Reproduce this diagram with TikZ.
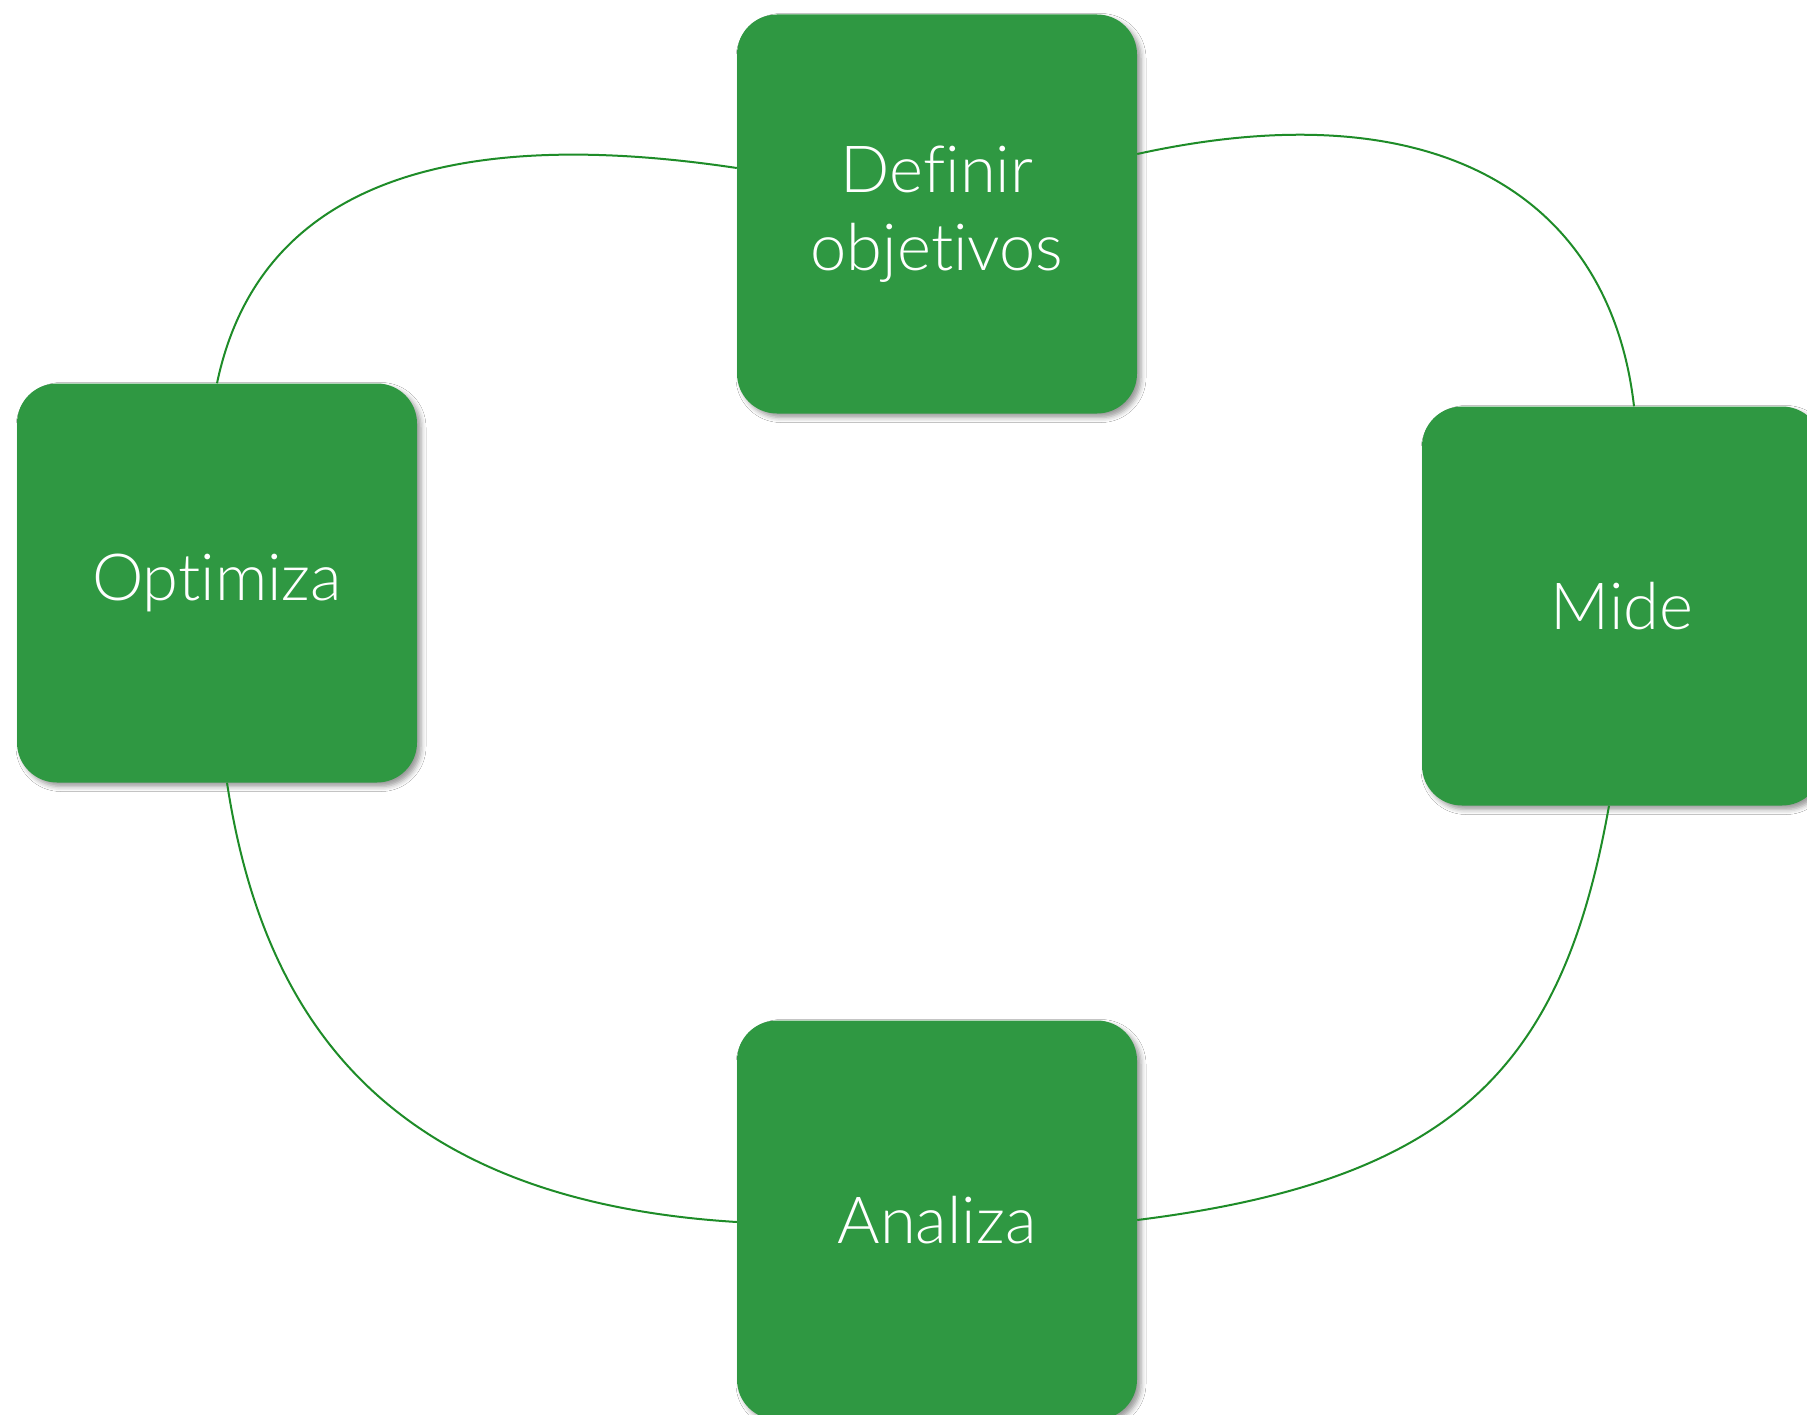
\documentclass[tikz,border=0pt]{standalone}
\usepackage{fontspec}
\setmainfont{Lato Light}[Ligatures={CommonOff}]
\usetikzlibrary{shadows.blur}
\definecolor{boxgreen}{RGB}{47,152,66}
\definecolor{linegreen}{RGB}{30,140,40}
\begin{document}
\begin{tikzpicture}[x=1pt,y=-1pt,
  stepbox/.style={rectangle, rounded corners=40pt, minimum width=400pt, minimum height=399pt,
    fill=boxgreen, text=white, align=center, inner sep=0pt,
    font=\fontsize{65}{78}\selectfont,
    blur shadow={shadow xshift=4pt, shadow yshift=-4pt, shadow blur radius=5pt, shadow opacity=40}},
  link/.style={draw=linegreen, line width=2pt}]
  \fill[white] (0,0) rectangle (1807,1415);
  \useasboundingbox (0,0) rectangle (1807,1415);
  \coordinate (defC) at (937,214);
  \coordinate (optC) at (217,583);
  \coordinate (midC) at (1622,606);
  \coordinate (anaC) at (937,1220);
  \node[stepbox] (def) at (defC) {Definir\\objetivos};
  \node[stepbox] (opt) at (optC) {Optimiza};
  \node[stepbox] (mid) at (midC) {Mide};
  \node[stepbox] (ana) at (anaC) {Analiza};
  \draw[link] ([yshift=46pt]def.west) .. controls +(-270,-40.5) and +(44,-210) .. (opt.north);
  \draw[link] ([yshift=60pt]def.east) .. controls +(300,-66) and +(-24,-210) .. ([xshift=12pt]mid.north);
  \draw[link] ([xshift=-13pt]mid.south) .. controls +(-46,260) and +(320,-40) .. (ana.east);
  \draw[link] ([yshift=-2pt]ana.west) .. controls +(-357,-22) and +(35,229) .. ([xshift=10pt]opt.south);
\end{tikzpicture}
\end{document}
